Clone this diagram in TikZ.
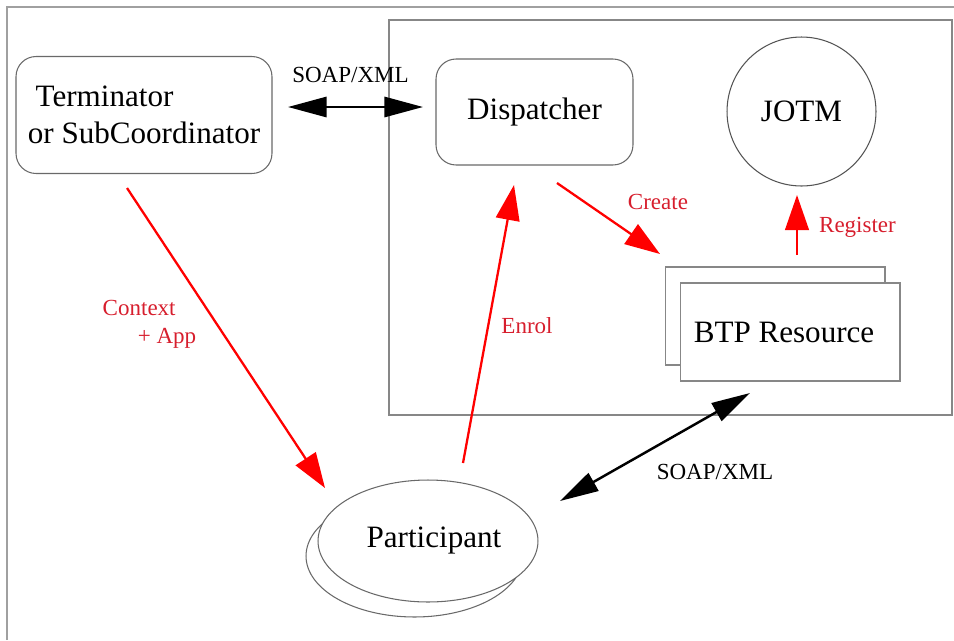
\documentclass[tikz,border=0pt]{standalone}
\usepackage{fontspec}
\setmainfont{Liberation Serif}
\usetikzlibrary{arrows.meta, shapes.geometric}
\definecolor{boxgray}{RGB}{105,105,105}
\definecolor{linegray}{RGB}{135,135,135}
\definecolor{framegray}{RGB}{160,160,160}
\definecolor{msgred}{RGB}{215,30,45}

\begin{document}
\begin{tikzpicture}[x=0.02cm, y=-0.02cm,
      every node/.style={font=\fontsize{17.7}{21}\selectfont},
      block/.style={draw=boxgray, line width=0.6pt, fill=white, inner sep=0pt},
      rblock/.style={block, rounded corners=0.4cm},
      msg/.style={font=\fontsize{13.1}{16}\selectfont, text=msgred},
      wire/.style={font=\fontsize{13.1}{16}\selectfont},
      call/.style={-{Triangle[length=20pt,width=13.5pt]}, red, line width=1.3pt},
      soap/.style={{Triangle[length=22pt,width=11.5pt]}-{Triangle[length=22pt,width=11.5pt]}, line width=1.4pt}]
      \useasboundingbox (0,0) rectangle (954,640);
      % page frame and the server box
      \draw[framegray, line width=1.3pt] (7,640) -- (7,7) -- (954,7);
      \draw[linegray, line width=0.7pt] (389,20) rectangle (952,415);

      \node[rblock, minimum width=5.12cm, minimum height=2.34cm, align=left] (term) at (144,115)
        {\hspace*{4.5pt}Terminator\\or SubCoordinator};
      \node[rblock, minimum width=3.94cm, minimum height=2.12cm] (disp) at (534.5,112) {Dispatcher};
      \node[block, circle, draw=boxgray!80!black, minimum size=2.98cm] (jotm) at (801.5,111.5) {JOTM};
      \node[block, draw=linegray, minimum width=4.4cm, minimum height=1.96cm] (btpback) at (775,316) {};
      \node[block, draw=linegray, minimum width=4.4cm, minimum height=1.96cm] (btp) at (790,332) {BTP Resource\hspace*{6.8pt}};
      \node[block, ellipse, minimum width=4.34cm, minimum height=2.44cm] (partback) at (414.5,556) {};
      \node[block, ellipse, minimum width=4.4cm, minimum height=2.44cm] (part) at (428,541) {\hspace*{6.8pt}Participant};

      % arrow ends
      \coordinate (soap1a) at (288,107);  \coordinate (soap1b) at (423,107);
      \coordinate (soap2a) at (560,501);  \coordinate (soap2b) at (750,393);
      \coordinate (ctxa) at (127,188);    \coordinate (ctxb) at (325,488);
      \coordinate (enrola) at (463,463);  \coordinate (enrolb) at (514,185);
      \coordinate (createa) at (557,183); \coordinate (createb) at (660,254);
      \coordinate (rega) at (797,255);    \coordinate (regb) at (797,195);

      \path[soap] (soap1a) edge (soap1b) (soap2a) edge (soap2b);
      \path[call] (ctxa) edge (ctxb) (enrola) edge (enrolb)
        (createa) edge (createb) (rega) edge (regb);

      \node[wire] (soap1lbl) at (350.5,75) {SOAP/XML};
      \node[wire] (soap2lbl) at (715,472) {SOAP/XML};
      \node[msg, align=left] (ctxlbl) at (149.5,324) {Context\\\hspace*{20pt}+ App};
      \node[msg] (enrollbl) at (527,326) {Enrol};
      \node[msg] (createlbl) at (658,202) {Create};
      \node[msg] (reglbl) at (857.5,227) {Register};
    \end{tikzpicture}
\end{document}
